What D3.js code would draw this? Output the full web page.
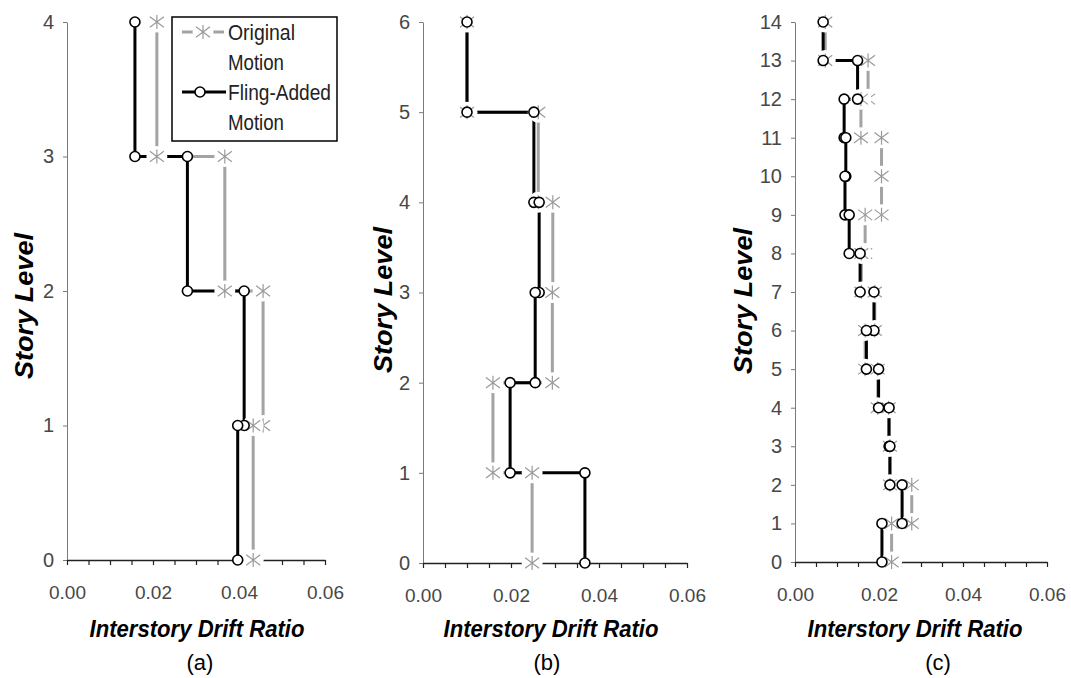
<!DOCTYPE html>
<html>
<head>
<meta charset="utf-8">
<script src="https://cdn.jsdelivr.net/npm/d3@7"></script>
<style>
  body { margin: 0; background: #fff; }
  text { font-family: 'Liberation Sans', Arial, sans-serif; }
</style>
</head>
<body>
<script>
// drift ratio per story, listed from story 1 (bottom) upwards
const originalA = [0.0433, 0.0456, 0.0367, 0.0209]
const flingA = [0.0397, 0.0412, 0.0280, 0.0158]

const originalB = [0.0248, 0.0159, 0.0294, 0.0295, 0.0262, 0.0100]
const flingB = [0.0368, 0.0198, 0.0255, 0.0264, 0.0252, 0.0100]

const originalC = [0.0230, 0.0278, 0.0226, 0.0223, 0.0197, 0.0167, 0.0190,
  0.0158, 0.0167, 0.0206, 0.0206, 0.0157, 0.0174, 0.0072]
const flingC = [0.0207, 0.0255, 0.0226, 0.0224, 0.0199, 0.0170, 0.0188,
  0.0155, 0.0129, 0.0119, 0.0121, 0.0117, 0.0149, 0.0067]

const driftTicks = [0, 0.02, 0.04, 0.06]
const driftMinorTicks = [0, 0.005, 0.01, 0.015, 0.02, 0.025, 0.03, 0.035, 0.04, 0.045, 0.05, 0.055, 0.06]
const seriesNames = [['Original', 'Motion'], ['Fling-Added', 'Motion']]
const xTitle = 'Interstory Drift Ratio'
const yTitle = 'Story Level'

const grey = '#a3a3a3'

const panels = [
  { tag: '(a)', original: originalA, fling: flingA, left: 67, right: 325, top: 22, bottom: 560,
    yTitleX: 33, yTitleY: 306, xTitleX: 197, tagX: 200, legend: true },
  { tag: '(b)', original: originalB, fling: flingB, left: 423, right: 687, top: 22, bottom: 563,
    yTitleX: 392, yTitleY: 300, xTitleX: 551, tagX: 547 },
  { tag: '(c)', original: originalC, fling: flingC, left: 795, right: 1047, top: 22, bottom: 562,
    yTitleX: 752, yTitleY: 301, xTitleX: 915, tagX: 938 }
]

const svg = d3
  .select('body')
  .append('svg')
  .attr('width', 1071)
  .attr('height', 678)

// turn story drifts into the stepped profile (top level down to ground)
const stepPoints = drifts => {
  const n = drifts.length
  const pts = []
  for (let k = n; k >= 0; k--) {
    if (k < n) pts.push({ drift: drifts[k], level: k })
    if (k > 0) pts.push({ drift: drifts[k - 1], level: k })
  }
  return pts
}

const asterisk = s =>
  `M0,${-s}L0,${s}M${-s},${-s * 0.75}L${s},${s * 0.75}M${-s},${s * 0.75}L${s},${-s * 0.75}`

const drawAsterisk = (g, cx, cy) => {
  g.append('circle').attr('cx', cx).attr('cy', cy).attr('r', 10.5).attr('fill', '#fff')
  g.append('path')
    .attr('d', asterisk(7))
    .attr('transform', `translate(${cx},${cy})`)
    .attr('fill', 'none')
    .attr('stroke', '#9a9a9a')
    .attr('stroke-width', 1.2)
}

const drawCircle = (g, cx, cy) => {
  g.append('circle')
    .attr('cx', cx)
    .attr('cy', cy)
    .attr('r', 5)
    .attr('fill', '#fff')
    .attr('stroke', '#000')
    .attr('stroke-width', 1.6)
}

panels.forEach(p => {
  const levels = p.original.length
  const x = d3.scaleLinear().domain([0, 0.06]).range([p.left, p.right])
  const y = d3.scaleLinear().domain([0, levels]).range([p.bottom, p.top])

  const g = svg.append('g')

  // Y axis
  const yAxisGroup = g.append('g').attr('transform', `translate(${p.left},0)`)
  yAxisGroup.call(
    d3.axisLeft(y)
      .tickValues(d3.range(0, levels + 1))
      .tickFormat(d3.format('d'))
      .tickSize(4)
      .tickSizeOuter(0)
      .tickPadding(9)
  )
  yAxisGroup.select('.domain').attr('stroke', '#7a7a7a')
  yAxisGroup.selectAll('line').attr('stroke', '#7a7a7a')
  yAxisGroup.selectAll('text').attr('font-size', 20).attr('fill', '#474747')

  // X axis: minor ticks + labelled ticks
  const xAxisGroup = g.append('g').attr('transform', `translate(0,${p.bottom})`)
  xAxisGroup.call(
    d3.axisBottom(x)
      .tickValues(driftMinorTicks)
      .tickSize(5)
      .tickSizeOuter(0)
      .tickFormat('')
  )
  xAxisGroup.select('.domain').attr('stroke', '#222').attr('stroke-width', 1.6)
  xAxisGroup.selectAll('line').attr('stroke', '#222').attr('stroke-width', 1.2)

  const xLabelGroup = g.append('g').attr('transform', `translate(0,${p.bottom})`)
  xLabelGroup.call(
    d3.axisBottom(x)
      .tickValues(driftTicks)
      .tickSize(0)
      .tickPadding(26)
      .tickFormat(d3.format('.2f'))
  )
  xLabelGroup.select('.domain').remove()
  xLabelGroup.selectAll('text').attr('font-size', 19).attr('fill', '#474747')

  // step lines
  const line = d3.line().x(d => x(d.drift)).y(d => y(d.level))
  const origPts = stepPoints(p.original)
  const flingPts = stepPoints(p.fling)

  g.append('path')
    .datum(origPts)
    .attr('fill', 'none')
    .attr('stroke', grey)
    .attr('stroke-width', 3)
    .attr('d', line)
  g.append('path')
    .datum(flingPts)
    .attr('fill', 'none')
    .attr('stroke', '#000')
    .attr('stroke-width', 3)
    .attr('d', line)

  // markers
  origPts.forEach(d => drawAsterisk(g, x(d.drift), y(d.level)))
  flingPts.forEach(d => drawCircle(g, x(d.drift), y(d.level)))

  // titles
  g.append('text')
    .attr('transform', `translate(${p.yTitleX},${p.yTitleY}) rotate(-90)`)
    .attr('text-anchor', 'middle')
    .attr('font-size', 25)
    .attr('font-weight', 'bold')
    .attr('font-style', 'italic')
    .attr('textLength', 146)
    .attr('lengthAdjust', 'spacingAndGlyphs')
    .text(yTitle)

  g.append('text')
    .attr('x', p.xTitleX)
    .attr('y', 637)
    .attr('text-anchor', 'middle')
    .attr('font-size', 24)
    .attr('font-weight', 'bold')
    .attr('font-style', 'italic')
    .attr('textLength', 215)
    .attr('lengthAdjust', 'spacingAndGlyphs')
    .text(xTitle)

  g.append('text')
    .attr('x', p.tagX)
    .attr('y', 670)
    .attr('text-anchor', 'middle')
    .attr('font-size', 22)
    .text(p.tag)

  // legend
  if (p.legend) {
    const lg = g.append('g')
    lg.append('rect')
      .attr('x', 172).attr('y', 17)
      .attr('width', 165).attr('height', 124)
      .attr('fill', '#fff')
      .attr('stroke', '#000')
      .attr('stroke-width', 1.5)

    lg.append('line').attr('x1', 182).attr('x2', 224).attr('y1', 32).attr('y2', 32)
      .attr('stroke', grey).attr('stroke-width', 3)
    drawAsterisk(lg, 203, 32)
    lg.append('line').attr('x1', 182).attr('x2', 226).attr('y1', 92).attr('y2', 92)
      .attr('stroke', '#000').attr('stroke-width', 3)
    drawCircle(lg, 200, 92)

    const rows = [[seriesNames[0][0], 40, 67], [seriesNames[0][1], 70, 56],
      [seriesNames[1][0], 100, 103], [seriesNames[1][1], 130, 56]]
    rows.forEach(([t, yy, w]) => {
      lg.append('text')
        .attr('x', 228)
        .attr('y', yy)
        .attr('font-size', 22)
        .attr('fill', '#222')
        .attr('textLength', w)
        .attr('lengthAdjust', 'spacingAndGlyphs')
        .text(t)
    })
  }
})
</script>
</body>
</html>
